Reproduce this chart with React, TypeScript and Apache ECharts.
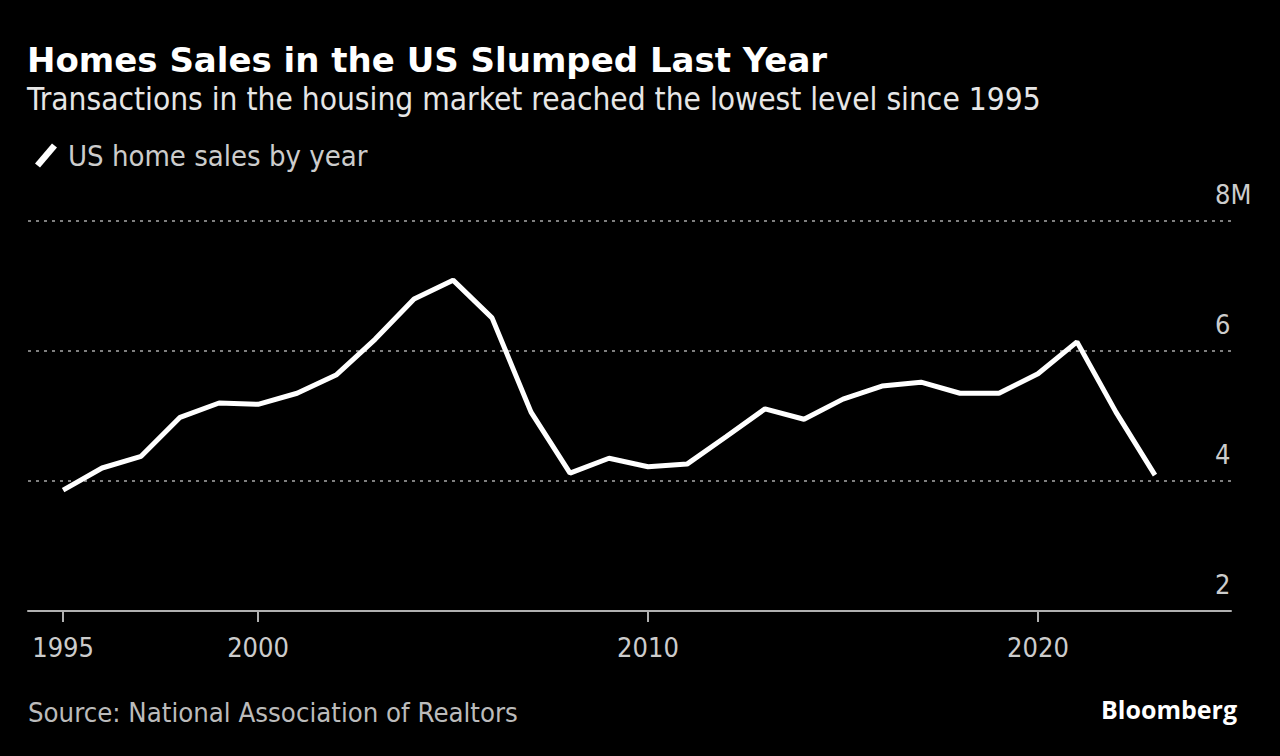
import React, { useEffect, useRef } from "react";
import * as echarts from "echarts";

const years = [1995, 1996, 1997, 1998, 1999, 2000, 2001, 2002, 2003, 2004, 2005, 2006, 2007, 2008, 2009, 2010, 2011, 2012, 2013, 2014, 2015, 2016, 2017, 2018, 2019, 2020, 2021, 2022, 2023];
const sales = [3.86, 4.2, 4.38, 4.98, 5.2, 5.18, 5.35, 5.63, 6.18, 6.8, 7.09, 6.51, 5.06, 4.12, 4.35, 4.22, 4.26, 4.68, 5.11, 4.95, 5.26, 5.46, 5.52, 5.35, 5.35, 5.65, 6.14, 5.06, 4.09];
const xTickLabels = [1995, 2000, 2010, 2020];
const yTicks = [2, 4, 6, 8];

const FONT = "'DejaVu Sans Condensed', 'DejaVu Sans', sans-serif";

export default function App() {
  const ref = useRef<HTMLDivElement>(null);
  useEffect(() => {
    document.body.style.margin = "0";
    document.body.style.background = "#000";
    const chart = echarts.init(ref.current!, null, { renderer: "svg" });
    chart.setOption({
      animation: false,
      backgroundColor: "#000",
      title: {
        text: "Homes Sales in the US Slumped Last Year",
        subtext: "Transactions in the housing market reached the lowest level since 1995",
        left: 22,
        top: 38,
        itemGap: 6,
        textStyle: { color: "#fff", fontSize: 34, fontWeight: "bold", fontFamily: "'DejaVu Sans', sans-serif" },
        subtextStyle: { color: "#e6e6e6", fontSize: 31.4, fontFamily: FONT },
      },
      legend: {
        left: 30,
        top: 136,
        icon: "path://M0,20 L17,0 L22,4 L5,24 Z",
        itemWidth: 30,
        itemHeight: 24,
        textStyle: { color: "#cccccc", fontSize: 29, fontFamily: FONT, padding: [0, 0, 0, 2] },
        data: ["US home sales by year"],
      },
      grid: { left: 28, right: 49, top: 221, bottom: 145 },
      xAxis: {
        type: "value",
        min: 1994.1,
        max: 2024.95,
        splitLine: { show: false },
        axisLine: { show: true, lineStyle: { color: "#b0b0b0", width: 2 } },
        axisTick: { show: true, customValues: xTickLabels, length: 11, lineStyle: { color: "#b0b0b0", width: 2 } },
        axisLabel: {
          customValues: xTickLabels,
          color: "#cccccc",
          fontSize: 27,
          fontFamily: FONT,
          margin: 23,
          formatter: (v: number) => String(v),
        },
      },
      yAxis: {
        type: "value",
        position: "right",
        min: yTicks[0],
        max: yTicks[yTicks.length - 1],
        interval: 2,
        axisLine: { show: false },
        axisTick: { show: false },
        splitLine: { show: true, lineStyle: { color: "#7f7f7f", width: 2, type: [3, 5] } },
        axisLabel: {
          color: "#cccccc",
          fontSize: 27,
          fontFamily: FONT,
          align: "left",
          verticalAlign: "bottom",
          margin: -16,
          padding: [0, 0, 13, 0],
          formatter: (v: number) => (v === 8 ? "8M" : String(v)),
        },
      },
      series: [
        {
          name: "US home sales by year",
          type: "line",
          data: years.map((y, i) => [y, sales[i]]),
          showSymbol: false,
          symbol: "none",
          lineStyle: { color: "#fff", width: 5 },
          itemStyle: { color: "#fff" },
        },
      ],
      graphic: [
        {
          type: "text",
          left: 28,
          top: 699,
          style: { text: "Source: National Association of Realtors", fill: "#bbbbbb", fontSize: 27.3, fontFamily: FONT },
        },
        {
          type: "text",
          right: 43,
          top: 696,
          style: { text: "Bloomberg", fill: "#ffffff", fontSize: 25, fontWeight: "bold", fontFamily: "'Open Sans', Lato, sans-serif" },
        },
      ],
    });
    return () => chart.dispose();
  }, []);
  return <div ref={ref} style={{ width: 1280, height: 756 }} />;
}
